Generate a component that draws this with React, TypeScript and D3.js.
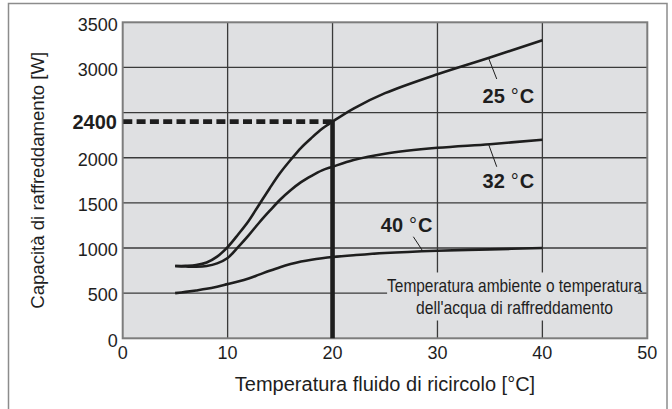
import React from "react";
import * as d3 from "d3";

// Recirculating fluid temperature [°C]
const fluidTemp = [5, 6, 7, 8, 9, 10, 11, 12, 13, 14, 15, 16, 17, 18, 19, 20, 22, 25, 30, 35, 40];

// Cooling capacity [W] for each ambient / cooling-water temperature
const cap25 = [800, 803, 812, 840, 905, 1010, 1150, 1300, 1480, 1660, 1830, 1975, 2110, 2220, 2320, 2400, 2545, 2715, 2925, 3110, 3300];
const cap32 = [800, 795, 792, 800, 830, 890, 1010, 1140, 1280, 1410, 1535, 1640, 1730, 1800, 1860, 1900, 1975, 2045, 2110, 2150, 2200];
const cap40 = [500, 514, 530, 548, 572, 600, 628, 662, 705, 748, 788, 822, 850, 871, 887, 900, 920, 945, 970, 985, 1000];

const seriesNames = ["25 °C", "32 °C", "40 °C"];

const xTicks = [0, 10, 20, 30, 40, 50];
const yGrid = [500, 1000, 1500, 2000, 2500, 3000];
const yTickLabels = [0, 500, 1000, 1500, 2000, 3000, 3500];

// Operating point highlighted on the chart
const opTemp = 20;
const opCap = 2400;

const W = 672;
const H = 409;
const M = { left: 122.7, top: 22.3, right: 672 - 647.3, bottom: 409 - 338.3 };

const FONT = "'Liberation Sans', Arial, Helvetica, sans-serif";

export default function App() {
  const x = d3.scaleLinear().domain([0, 50]).range([M.left, W - M.right]);
  const y = d3.scaleLinear().domain([0, 3500]).range([H - M.bottom, M.top]);

  const line = d3
    .line<[number, number]>()
    .x((d) => x(d[0]))
    .y((d) => y(d[1]))
    .curve(d3.curveCatmullRom.alpha(0.5));

  const series = [cap25, cap32, cap40].map((vals) =>
    fluidTemp.map((t, i) => [t, vals[i]] as [number, number])
  );

  const bg = "#dfe0e2";
  const gridColor = "#3a3a3a";
  const ink = "#1e1e1e";

  // label placement per curve, in data units: text origin, leader start, leader end
  const callouts = [
    { name: seriesNames[0], tx: 34.3, ty: 2610, x1: 34.9, y1: 3095, x2: 35.65, y2: 2872 },
    { name: seriesNames[1], tx: 34.3, ty: 1668, x1: 34.9, y1: 2140, x2: 35.65, y2: 1900 },
    { name: seriesNames[2], tx: 24.6, ty: 1181, x1: 27.7, y1: 1125, x2: 28.6, y2: 966 },
  ];

  const boxX0 = x(25.2);
  const boxX1 = x(49.1);
  const boxY0 = y(729);
  const boxY1 = y(197);
  const boxCx = x(37.35);

  return (
    <svg
      width={W}
      height={H}
      style={{ position: "absolute", left: 0, top: 0, background: "#fff" }}
      fontFamily={FONT}
    >
      {/* outer frame */}
      <rect x={8.5} y={3.5} width={658.5} height={430} fill="none" stroke="#8c8c8c" strokeWidth={1.5} />

      {/* plot background */}
      <rect x={x(0)} y={y(3500)} width={x(50) - x(0)} height={y(0) - y(3500)} fill={bg} />

      {/* grid */}
      {yGrid.map((v) => (
        <line key={"h" + v} x1={x(0)} x2={x(50)} y1={y(v)} y2={y(v)} stroke={gridColor} strokeWidth={1.3} />
      ))}
      {xTicks.slice(1, -1).map((v) => (
        <line key={"v" + v} x1={x(v)} x2={x(v)} y1={y(0)} y2={y(3500)} stroke={gridColor} strokeWidth={1.3} />
      ))}

      {/* note box hides the grid behind its text */}
      <rect x={boxX0} y={boxY0} width={boxX1 - boxX0} height={boxY1 - boxY0} fill={bg} />
      <text
        x={boxCx}
        y={y(513)}
        textAnchor="middle"
        fontSize={19}
        fill={ink}
        textLength={255}
        lengthAdjust="spacingAndGlyphs"
      >
        Temperatura ambiente o temperatura
      </text>
      <text
        x={boxCx}
        y={y(264)}
        textAnchor="middle"
        fontSize={19}
        fill={ink}
        textLength={197}
        lengthAdjust="spacingAndGlyphs"
      >
        dell'acqua di raffreddamento
      </text>

      {/* plot border */}
      <rect
        x={x(0)}
        y={y(3500)}
        width={x(50) - x(0)}
        height={y(0) - y(3500)}
        fill="none"
        stroke="#7d7d7d"
        strokeWidth={2}
      />

      {/* capacity curves */}
      {series.map((s, i) => (
        <path key={"s" + i} d={line(s) || ""} fill="none" stroke={ink} strokeWidth={2.6} />
      ))}

      {/* operating point */}
      <line
        x1={x(0)}
        x2={x(opTemp)}
        y1={y(opCap)}
        y2={y(opCap)}
        stroke={ink}
        strokeWidth={4.6}
        strokeDasharray="9 4.3"
        strokeDashoffset={-0.6}
      />
      <line x1={x(opTemp)} x2={x(opTemp)} y1={y(opCap) - 1.5} y2={y(0)} stroke={ink} strokeWidth={4.6} />

      {/* callouts */}
      {callouts.map((c, i) => (
        <g key={"c" + i}>
          <line x1={x(c.x1)} y1={y(c.y1)} x2={x(c.x2)} y2={y(c.y2)} stroke={ink} strokeWidth={1} />
          <text x={x(c.tx)} y={y(c.ty)} fontSize={20} fontWeight="bold" fill={ink}>
            {c.name.split(" ")[0]}
            <tspan dx={6} fontWeight="normal">°</tspan>
            <tspan dx={1}>C</tspan>
          </text>
        </g>
      ))}

      {/* y tick labels */}
      {yTickLabels.map((v) => (
        <text key={"yl" + v} x={117.7} y={y(v) + 8.2} textAnchor="end" fontSize={18} fill={ink}>
          {v}
        </text>
      ))}
      <text x={117} y={y(opCap) + 7.7} textAnchor="end" fontSize={20} fontWeight="bold" fill={ink}>
        {opCap}
      </text>

      {/* x tick labels */}
      {xTicks.map((v) => (
        <text key={"xl" + v} x={x(v)} y={y(0) + 21} textAnchor="middle" fontSize={18} fill={ink}>
          {v}
        </text>
      ))}

      {/* axis titles */}
      <text x={(x(0) + x(50)) / 2} y={390.7} textAnchor="middle" fontSize={20} fill={ink}>
        Temperatura fluido di ricircolo [°C]
      </text>
      <text
        transform={`translate(43.5,${(y(0) + y(3500)) / 2}) rotate(-90)`}
        textAnchor="middle"
        fontSize={18.6}
        fill={ink}
      >
        Capacità di raffreddamento [W]
      </text>
    </svg>
  );
}
